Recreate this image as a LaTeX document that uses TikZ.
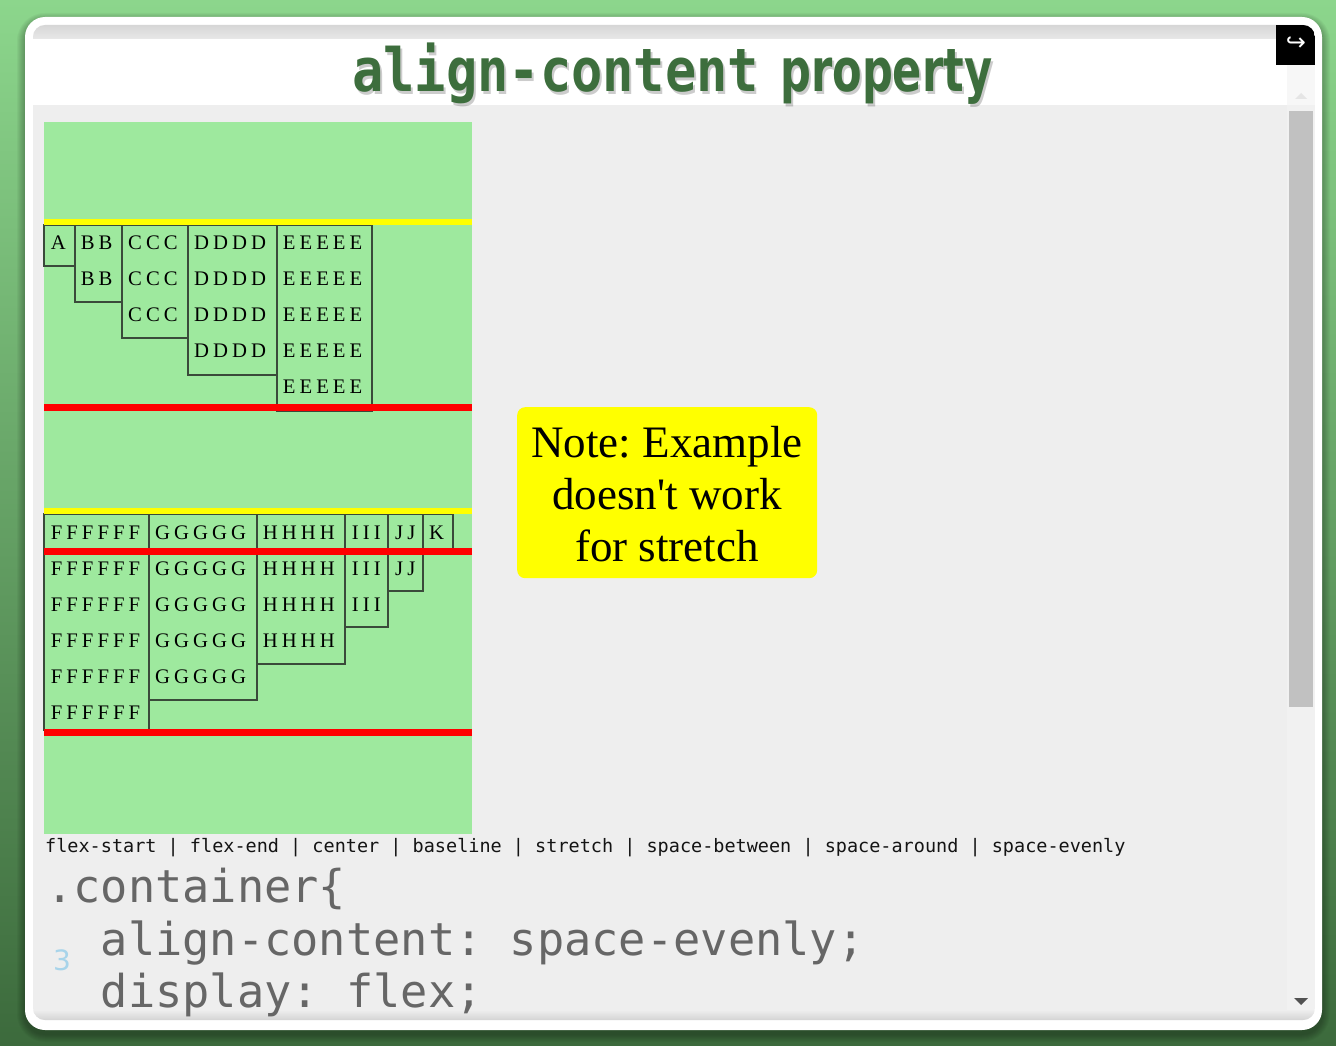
\documentclass[tikz,border=0pt]{standalone}
\usepackage{fontspec}
\setmainfont{Liberation Serif}
\newfontfamily\boxfont{Liberation Serif}[LetterSpace=19.5]
\newfontfamily\notefont{Liberation Serif}
\newfontfamily\monofont{DejaVu Sans Mono}
\newfontfamily\dvsans{DejaVu Sans}
\usetikzlibrary{shadings}
\frenchspacing
\definecolor{bgtop}{HTML}{8CD68C}
\definecolor{bgbot}{HTML}{3C6A3C}
\definecolor{panelgray}{HTML}{EEEEEE}
\definecolor{stripgray}{HTML}{E8E8E8}
\definecolor{flexgreen}{HTML}{9EE99E}
\definecolor{titlegreen}{HTML}{3D6E3D}
\definecolor{codegray}{HTML}{666666}
\definecolor{linenum}{HTML}{A8D4EA}
\definecolor{thumbgray}{HTML}{C1C1C1}
\definecolor{trackgray}{HTML}{F1F1F1}
\definecolor{boxline}{HTML}{3A4A3A}
\definecolor{notey}{HTML}{FFFF00}
\tikzset{
  flexitem/.style={draw=boxline, line width=1.1pt},
  itemtext/.style={anchor=base west, inner sep=0pt, font=\boxfont\fontsize{20.7}{24}\selectfont},
  yline/.style={fill=notey},
  rline/.style={fill=red},
  notetext/.style={anchor=base, inner sep=0pt, font=\notefont\fontsize{45}{52}\selectfont},
  codetext/.style={anchor=base west, inner sep=0pt, text=codegray, font=\monofont\fontsize{45.3}{50}\selectfont},
}
\begin{document}
\begin{tikzpicture}[x=1pt,y=-1pt]
\useasboundingbox (0,0) rectangle (1336,1046);
% background
\shade[top color=bgtop, bottom color=bgbot] (0,0) rectangle (1336,1046);
% card shadow
\foreach \i in {1,...,8}{
  \fill[black, opacity=0.035, rounded corners=20+\i] (25-\i,17-\i+4) rectangle (1322+\i,1030+\i+4);
}
% card
\fill[white, rounded corners=20] (25,17) rectangle (1322,1030);
\begin{scope}
  \clip[rounded corners=12] (33,25) rectangle (1315,1020);
  \fill[panelgray] (33,25) rectangle (1315,1020);
  \shade[top color=black!16, bottom color=stripgray] (33,25) rectangle (1315,39);
  \fill[white] (33,39) rectangle (1315,105);
  \fill[white!97!black] (1287,65) rectangle (1315,105);
  \shade[top color=panelgray, bottom color=black!17] (33,1010) rectangle (1315,1020);
  % scrollbar
  \fill[trackgray] (1287,105) rectangle (1315,1010);
  \fill[thumbgray] (1289,111) rectangle (1313,707);
  \fill[black!10] (1295,99) -- (1307,99) -- (1301,93) -- cycle;
  \fill[black!68] (1294,998) -- (1308,998) -- (1301,1005) -- cycle;
  % back button
  \fill[black] (1276,25) rectangle (1315,65);
\end{scope}
\node[text=white, inner sep=0pt, font=\dvsans\fontsize{24}{26}\selectfont] (backbtn) at (1296,44) {↪};
% title
\node[anchor=base west, inner sep=0pt, text=black, opacity=0.2] (titleAshadow) at (354,94.5)
  {\scalebox{1}[1.15]{\monofont\bfseries\fontsize{52}{60}\selectfont align-content}};
\node[anchor=base west, inner sep=0pt, text=black, opacity=0.2] (titleBshadow) at (782,94.5)
  {\scalebox{0.83}[1.15]{\dvsans\bfseries\fontsize{52}{60}\selectfont property}};
\node[anchor=base west, inner sep=0pt, text=titlegreen] (titleA) at (352,92)
  {\scalebox{1}[1.15]{\monofont\bfseries\fontsize{52}{60}\selectfont align-content}};
\node[anchor=base west, inner sep=0pt, text=titlegreen] (titleB) at (780,92)
  {\scalebox{0.83}[1.15]{\dvsans\bfseries\fontsize{52}{60}\selectfont property}};
% flex container
\fill[flexgreen] (44,122) rectangle (472,834);
% ---- first group
\draw[flexitem] (44,225) rectangle (75,266);
\draw[flexitem] (75,225) rectangle (122,302);
\draw[flexitem] (122,225) rectangle (188,338);
\draw[flexitem] (188,225) rectangle (277,375);
\draw[flexitem] (277,225) rectangle (372,411);
\fill[yline] (44,219) rectangle (472,225);
\fill[rline] (44,404) rectangle (472,411);
\node[itemtext] (a0) at (50.7,249) {A};
\foreach \r in {0,1}{\node[itemtext] (b\r) at (80.7,249+36*\r) {BB};}
\foreach \r in {0,1,2}{\node[itemtext] (c\r) at (128,249+36*\r) {CCC};}
\foreach \r in {0,...,3}{\node[itemtext] (d\r) at (194,249+36*\r) {DDDD};}
\foreach \r in {0,...,4}{\node[itemtext] (e\r) at (282.7,249+36*\r) {EEEEE};}
% ---- second group
\draw[flexitem] (44,514) rectangle (149,730);
\draw[flexitem] (149,514) rectangle (257,700);
\draw[flexitem] (257,514) rectangle (345,664);
\draw[flexitem] (345,514) rectangle (388,627);
\draw[flexitem] (388,514) rectangle (423,591);
\draw[flexitem] (423,514) rectangle (453,549);
\fill[yline] (44,508) rectangle (472,514);
\fill[rline] (44,548) rectangle (472,555);
\fill[rline] (44,729) rectangle (472,736);
\foreach \r in {0,...,5}{\node[itemtext] (f\r) at (50.7,539+36*\r) {FFFFFF};}
\foreach \r in {0,...,4}{\node[itemtext] (g\r) at (155,539+36*\r) {GGGGG};}
\foreach \r in {0,...,3}{\node[itemtext] (h\r) at (262.7,539+36*\r) {HHHH};}
\foreach \r in {0,1,2}{\node[itemtext] (i\r) at (351.7,539+36*\r) {III};}
\foreach \r in {0,1}{\node[itemtext] (j\r) at (395,539+36*\r) {JJ};}
\node[itemtext] (k0) at (429,539) {K};
% note
\node[fill=notey, rounded corners=8, minimum width=300pt, minimum height=171pt, anchor=north west, inner sep=0pt] (notebox) at (517,407) {};
\node[notetext] (note1) at (667,457) {Note: Example};
\node[notetext] (note2) at (667,509) {doesn't work};
\node[notetext] (note3) at (667,561) {for stretch};
% options
\node[anchor=base west, inner sep=0pt, text=black!92, font=\monofont\fontsize{18.5}{20}\selectfont] (options) at (45,852)
  {flex-start | flex-end | center | baseline | stretch | space-between | space-around | space-evenly};
% code
\node[codetext] (code1) at (46,902) {.container\{};
\node[codetext] (code2) at (100.6,955) {align-content: space-evenly;};
\node[codetext] (code3) at (100.6,1007) {display: flex;};
\node[anchor=base west, inner sep=0pt, text=linenum, font=\dvsans\fontsize{28}{30}\selectfont] (lineno) at (53,970) {3};
\end{tikzpicture}
\end{document}
